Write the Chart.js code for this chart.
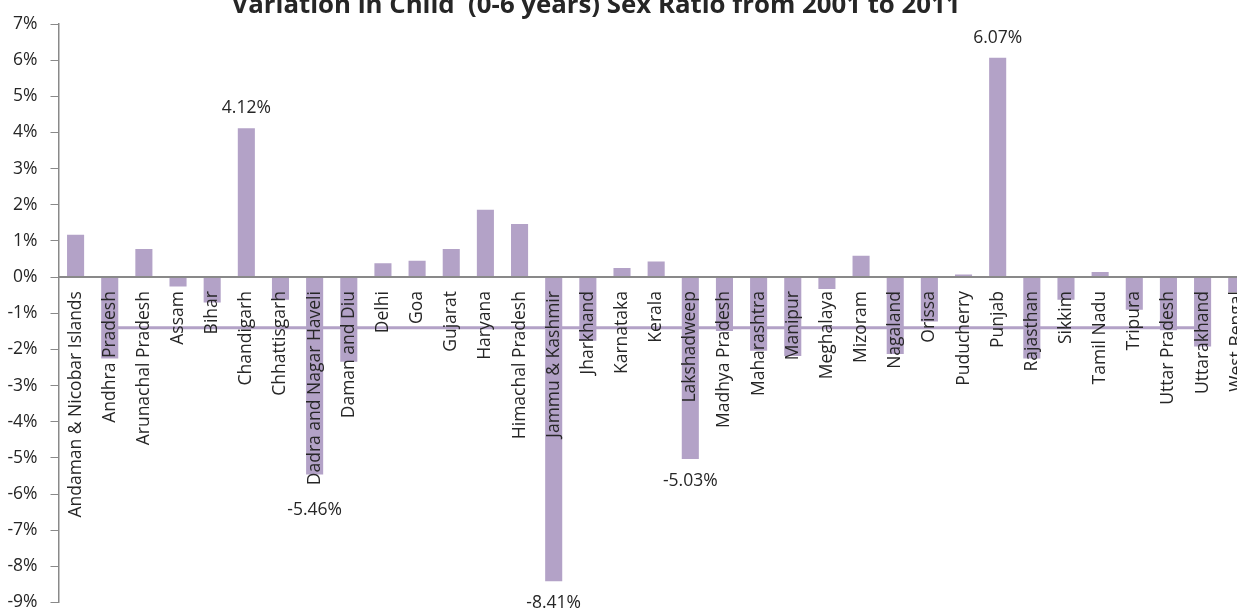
<!DOCTYPE html>
<html>
<head>
<meta charset="utf-8">
<script src="https://cdn.jsdelivr.net/npm/chart.js@4.4.1/dist/chart.umd.min.js"></script>
<style>
  html, body { margin: 0; padding: 0; background: #ffffff; overflow: hidden; width: 1237px; height: 608px; }
  canvas { display: block; }
</style>
</head>
<body>
<canvas id="chart" width="1272" height="626"></canvas>
<script>
const chartTitle = 'Variation in Child  (0-6 years) Sex Ratio from 2001 to 2011';

const states = [
  'Andaman & Nicobar Islands', 'Andhra Pradesh', 'Arunachal Pradesh', 'Assam', 'Bihar',
  'Chandigarh', 'Chhattisgarh', 'Dadra and Nagar Haveli', 'Daman and Diu', 'Delhi',
  'Goa', 'Gujarat', 'Haryana', 'Himachal Pradesh', 'Jammu & Kashmir',
  'Jharkhand', 'Karnataka', 'Kerala', 'Lakshadweep', 'Madhya Pradesh',
  'Maharashtra', 'Manipur', 'Meghalaya', 'Mizoram', 'Nagaland',
  'Orissa', 'Puducherry', 'Punjab', 'Rajasthan', 'Sikkim',
  'Tamil Nadu', 'Tripura', 'Uttar Pradesh', 'Uttarakhand', 'West Bengal'
];

// variation in percent
const variation = [
  1.17, -2.25, 0.78, -0.26, -0.70,
  4.12, -0.63, -5.46, -2.34, 0.38,
  0.45, 0.78, 1.86, 1.47, -8.41,
  -1.76, 0.25, 0.43, -5.03, -1.49,
  -2.04, -2.18, -0.33, 0.59, -2.13,
  -1.23, 0.07, 6.07, -2.25, -0.63,
  0.14, -0.90, -1.47, -1.92, -0.42
];

const nationalVariation = -1.40;

const labelledStates = ['Chandigarh', 'Dadra and Nagar Haveli', 'Jammu & Kashmir', 'Lakshadweep', 'Punjab'];

const yTickValues = [7, 6, 5, 4, 3, 2, 1, 0, -1, -2, -3, -4, -5, -6, -7, -8, -9];

const FONT = "'Open Sans', 'DejaVu Sans', sans-serif";
const TEXT = '#262626';
const AXIS = '#898989';
const BAR = '#b3a2c7';

const titlePlugin = {
  id: 'fixedTitle',
  afterDraw(chart) {
    const ctx = chart.ctx;
    ctx.save();
    ctx.font = 'bold 25.8px ' + FONT;
    ctx.fillStyle = TEXT;
    ctx.textAlign = 'center';
    ctx.textBaseline = 'alphabetic';
    ctx.fillText(chartTitle, 596, 12.5);
    ctx.restore();
  }
};

const valueLabelPlugin = {
  id: 'valueLabels',
  afterDraw(chart) {
    const ctx = chart.ctx;
    const meta = chart.getDatasetMeta(0);
    ctx.save();
    ctx.font = '17.5px ' + FONT;
    ctx.fillStyle = TEXT;
    ctx.textAlign = 'center';
    ctx.textBaseline = 'middle';
    labelledStates.forEach(name => {
      const i = states.indexOf(name);
      const el = meta.data[i];
      if (!el) return;
      const v = variation[i];
      let y;
      if (v >= 0) {
        y = el.y - 20;
      } else {
        y = el.y + (name === 'Dadra and Nagar Haveli' ? 36 : 22);
      }
      ctx.fillText(v.toFixed(2) + '%', el.x, y);
    });
    ctx.restore();
  }
};

new Chart(document.getElementById('chart'), {
  type: 'bar',
  data: {
    labels: states,
    datasets: [
      {
        type: 'bar',
        label: 'Variation',
        data: variation,
        xAxisID: 'x',
        yAxisID: 'y',
        backgroundColor: BAR,
        borderWidth: 0,
        grouped: false,
        categoryPercentage: 1,
        barPercentage: 0.5,
        order: 1
      },
      {
        type: 'line',
        label: 'India',
        data: [{ x: 0, y: nationalVariation }, { x: 1, y: nationalVariation }],
        xAxisID: 'xl',
        yAxisID: 'y',
        borderColor: BAR,
        borderWidth: 3,
        pointRadius: 0,
        fill: false,
        order: 0
      }
    ]
  },
  options: {
    responsive: false,
    devicePixelRatio: 1,
    animation: false,
    events: [],
    layout: { padding: { top: 24, left: 7, right: 0, bottom: 0 } },
    plugins: {
      legend: { display: false },
      title: { display: false },
      tooltip: { enabled: false }
    },
    scales: {
      x: {
        type: 'category',
        position: { y: 0 },
        offset: true,
        grid: { display: false, drawTicks: false },
        border: { display: true, color: AXIS, width: 2, z: 1 },
        ticks: {
          z: 2,
          autoSkip: false,
          minRotation: 90,
          maxRotation: 90,
          padding: 14,
          color: TEXT,
          font: { family: FONT, size: 17.5 }
        }
      },
      xl: {
        type: 'linear',
        display: false,
        min: 0,
        max: 1
      },
      y: {
        type: 'linear',
        min: -9,
        max: 7,
        afterBuildTicks(scale) {
          scale.ticks = yTickValues.map(v => ({ value: v }));
        },
        afterFit(scale) {
          scale.width = 51.5;
        },
        grid: {
          drawOnChartArea: false,
          drawTicks: true,
          tickLength: 8,
          color: AXIS,
          lineWidth: 1
        },
        border: { display: true, color: AXIS, width: 1.5 },
        ticks: {
          padding: 13,
          color: TEXT,
          font: { family: FONT, size: 17.5 },
          callback: v => v + '%'
        }
      }
    }
  },
  plugins: [titlePlugin, valueLabelPlugin]
});
</script>
</body>
</html>
